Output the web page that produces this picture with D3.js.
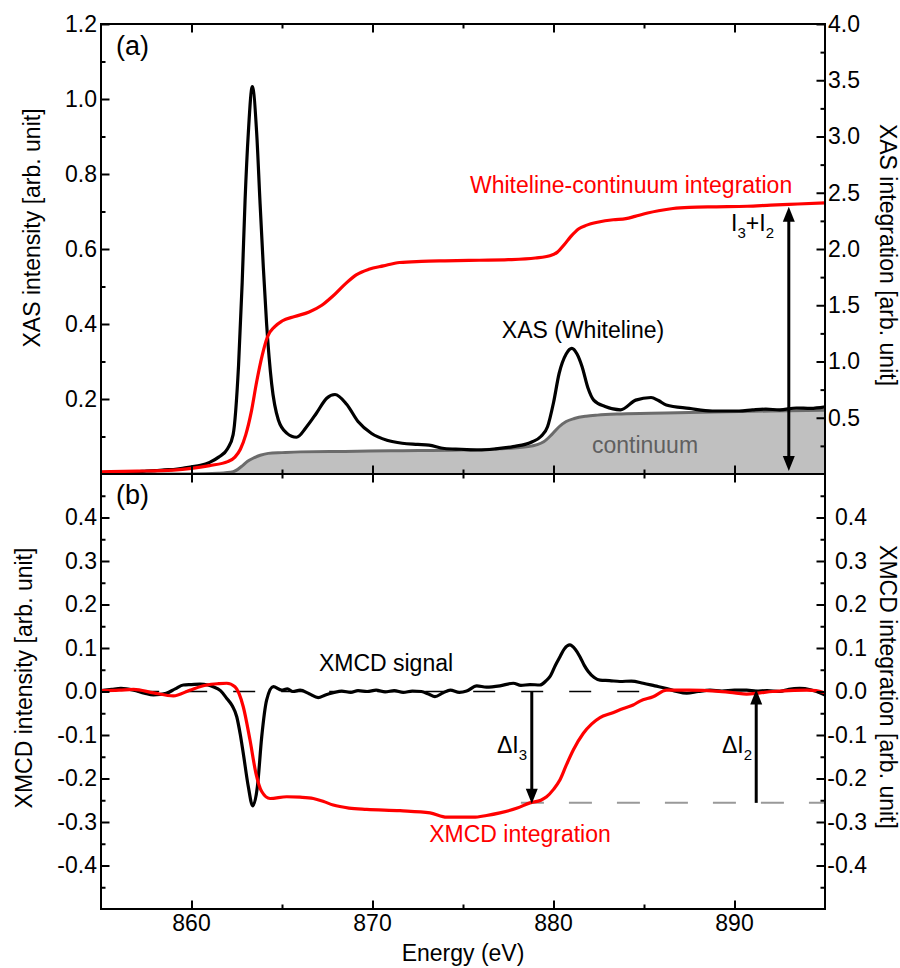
<!DOCTYPE html>
<html><head><meta charset="utf-8">
<script src="https://cdn.jsdelivr.net/npm/d3@7"></script>
<style>
html,body{margin:0;padding:0;background:#fff;}
svg{display:block;font-family:"Liberation Sans",Arial,Helvetica,sans-serif;}
</style></head>
<body><svg id="chart" width="900" height="968"></svg>
<script>
// ---------------- DATA ----------------
// Panel (a): XAS whiteline (left axis)
const xasE = [855.0,856.0,857.0,857.5,858.0,858.5,859.0,859.5,860.0,860.5,861.0,861.5,862.0,862.3,862.6,862.8,862.96,863.14,863.36,863.6,863.78,863.97,864.15,864.43,864.8,865.26,865.8,866.36,866.9,867.47,867.93,868.57,869.2,869.95,870.8,871.64,872.5,873.12,873.97,874.9,875.87,876.8,877.77,878.83,879.3,879.67,880.0,880.31,880.7,881.01,881.3,881.58,881.9,882.22,882.85,883.7,884.54,885.39,885.8,886.23,887.5,888.77,890.25,891.0,891.73,892.5,893.42,894.2,895.0];
const xasI = [0.004,0.005,0.006,0.008,0.009,0.011,0.012,0.015,0.019,0.023,0.031,0.045,0.068,0.105,0.29,0.51,0.73,0.91,1.033,0.91,0.73,0.55,0.40,0.24,0.144,0.109,0.098,0.126,0.162,0.202,0.212,0.186,0.14,0.108,0.09,0.082,0.079,0.077,0.068,0.066,0.064,0.067,0.073,0.086,0.10,0.126,0.19,0.268,0.32,0.335,0.32,0.286,0.23,0.197,0.18,0.171,0.197,0.204,0.196,0.184,0.175,0.168,0.168,0.171,0.173,0.171,0.176,0.175,0.179];
// Continuum (left axis)
const contE = [855,860,861.5,862.3,862.76,863.1,863.4,863.8,864.24,865,866,868.47,871,874.8,877,878.6,879.46,879.9,880.31,880.7,881.15,881.8,882.42,883.5,885.39,887.5,889.6,892,895];
const contI = [0.0,0.0,0.002,0.006,0.02,0.034,0.042,0.05,0.055,0.057,0.059,0.06,0.062,0.064,0.067,0.073,0.086,0.105,0.126,0.14,0.148,0.154,0.157,0.16,0.162,0.164,0.166,0.168,0.170];
// Whiteline-continuum integration (right axis)
const intE = [855,857,859,860,861,862,862.4,862.7,863.0,863.3,863.6,863.9,864.2,864.6,865.0,865.7,866.5,867.2,867.8,868.5,869.1,869.8,870.6,871.5,872.7,874,875.9,877.5,879.0,879.8,880.2,880.6,880.95,881.4,881.8,882.5,883.3,884.0,884.5,885.2,885.8,886.6,887.5,889,890.7,892,893.5,895];
const intV = [0.02,0.025,0.035,0.05,0.075,0.11,0.15,0.22,0.35,0.55,0.82,1.05,1.22,1.31,1.36,1.40,1.44,1.50,1.58,1.69,1.77,1.82,1.85,1.88,1.89,1.895,1.90,1.905,1.92,1.94,1.97,2.04,2.11,2.18,2.21,2.24,2.26,2.27,2.29,2.32,2.34,2.36,2.37,2.375,2.38,2.39,2.40,2.41];
// Panel (b): XMCD signal (left axis)
const xmcdE = [855.0,855.6,856.1,856.8,857.4,857.9,858.6,859.1,859.55,860.0,860.47,860.9,861.2,861.6,861.95,862.25,862.5,862.7,862.86,863.14,863.38,863.64,863.88,864.15,864.52,864.98,865.3,865.6,866.0,866.5,867.0,867.4,867.83,868.3,868.8,869.2,869.7,870.2,870.7,871.2,871.7,872.2,872.7,873.1,873.45,873.9,874.3,874.8,875.2,875.76,876.3,877.04,877.78,878.2,878.7,879.25,879.6,879.8,880.1,880.36,880.6,880.9,881.2,881.46,881.7,881.92,882.25,882.57,883.1,883.67,884.3,884.96,885.6,886.25,886.8,887.36,888.0,888.65,889.3,890.0,890.67,891.2,891.8,892.5,893.0,893.6,894.2,895.0];
const xmcdV = [0.002,0.005,0.007,0.003,-0.004,-0.008,-0.004,0.006,0.015,0.016,0.017,0.015,0.011,0.002,-0.016,-0.033,-0.058,-0.10,-0.142,-0.219,-0.263,-0.219,-0.104,-0.02,0.011,0.003,0.006,0.0,0.003,-0.005,-0.014,-0.008,-0.003,0.001,-0.002,0.002,0.0,0.003,-0.001,0.002,-0.002,0.001,0.0,-0.006,-0.012,-0.003,0.003,-0.002,0.001,0.013,0.010,0.013,0.019,0.014,0.016,0.015,0.025,0.034,0.06,0.08,0.098,0.107,0.097,0.08,0.06,0.046,0.032,0.026,0.025,0.023,0.024,0.019,0.013,0.007,0.0,-0.004,0.0,0.003,0.001,0.003,0.003,0.001,0.002,0.0,0.005,0.007,0.004,-0.008];
// XMCD integration (right axis)
const xintE = [855.0,856.0,856.8,857.9,859.0,859.9,860.84,861.5,861.95,862.4,862.86,863.23,863.56,863.88,864.34,865.26,866.0,866.73,867.3,867.83,868.7,869.68,871.52,873.18,874.1,875.57,876.3,877.04,878.0,878.7,879.3,879.62,880.0,880.36,880.7,881.1,881.65,882.1,882.57,883.2,883.86,884.4,884.78,885.5,886.25,887.5,889.0,890.0,890.67,891.4,892.1,893.0,894.0,894.5,895.0];
const xintV = [0.002,0.003,0.005,-0.003,-0.010,0.003,0.015,0.018,0.019,0.011,-0.035,-0.111,-0.188,-0.23,-0.246,-0.242,-0.243,-0.246,-0.253,-0.261,-0.268,-0.271,-0.274,-0.279,-0.289,-0.289,-0.285,-0.279,-0.268,-0.256,-0.25,-0.242,-0.225,-0.203,-0.17,-0.134,-0.096,-0.075,-0.06,-0.05,-0.039,-0.031,-0.022,-0.012,0.003,0.003,0.001,-0.003,-0.006,-0.003,0.0,0.002,0.003,0.002,-0.003];
// Annotation values
const sumArrowE = 893.0, sumArrowTop = 2.385;
const dI3E = 878.8, dI2E = 891.2, dLevel = -0.256;
// Ticks
const xTicks = [860,870,880,890], xMinor = [865,875,885];
const xasTicks = [0.2,0.4,0.6,0.8,1.0,1.2], xasMinor = [0.1,0.3,0.5,0.7,0.9,1.1];
const intTicks = [0.5,1.0,1.5,2.0,2.5,3.0,3.5,4.0], intMinor = [0.25,0.75,1.25,1.75,2.25,2.75,3.25,3.75];
const xmcdTicks = [-0.4,-0.3,-0.2,-0.1,0.0,0.1,0.2,0.3,0.4], xmcdMinor = [-0.45,-0.35,-0.25,-0.15,-0.05,0.05,0.15,0.25,0.35,0.45];

// ---------------- LAYOUT ----------------
const L = 101, R = 825, T1 = 24, B1 = 474, T2 = 474, B2 = 909;
const FS = 23;
const RED = "#ff0000";
const svg = d3.select("#chart");
const x = d3.scaleLinear([855,895],[L,R]);
const yA = d3.scaleLinear([0,1.2],[B1,T1]);
const yAR = d3.scaleLinear([0,4],[B1,T1]);
const yB = d3.scaleLinear([-0.5,0.5],[B2,T2]);
const fmt = v => (Math.abs(v) < 1e-9 ? 0 : v).toFixed(1);

const defs = svg.append("defs");
defs.append("clipPath").attr("id","cA").append("rect").attr("x",L).attr("y",T1).attr("width",R-L).attr("height",B1-T1);
defs.append("clipPath").attr("id","cB").append("rect").attr("x",L).attr("y",T2).attr("width",R-L).attr("height",B2-T2);

const zipc = (a,b) => a.map((e,i)=>[e,b[i]]);
const curve = d3.curveMonotoneX;

// ---------- Panel (a) ----------
const gA = svg.append("g").attr("clip-path","url(#cA)");
gA.append("path").datum(zipc(contE,contI))
  .attr("d", d3.area().x(d=>x(d[0])).y0(yA(0)).y1(d=>yA(d[1])).curve(curve))
  .attr("fill","#c0c0c0");
gA.append("path").datum(zipc(contE,contI))
  .attr("d", d3.line().x(d=>x(d[0])).y(d=>yA(d[1])).curve(curve))
  .attr("fill","none").attr("stroke","#6b6b6b").attr("stroke-width",3);
gA.append("path").datum(zipc(xasE,xasI))
  .attr("d", d3.line().x(d=>x(d[0])).y(d=>yA(d[1])).curve(curve))
  .attr("fill","none").attr("stroke","#000").attr("stroke-width",3.2).attr("stroke-linejoin","round");
gA.append("path").datum(zipc(intE,intV))
  .attr("d", d3.line().x(d=>x(d[0])).y(d=>yAR(d[1])).curve(curve))
  .attr("fill","none").attr("stroke",RED).attr("stroke-width",3.2);

// ---------- Panel (b) ----------
const gB = svg.append("g").attr("clip-path","url(#cB)");
gB.append("line").attr("x1",x(857)).attr("x2",x(885)).attr("y1",yB(0)).attr("y2",yB(0))
  .attr("stroke","#000").attr("stroke-width",1.6).attr("stroke-dasharray","22,26");
gB.append("line").attr("x1",x(878.2)).attr("x2",x(895)).attr("y1",yB(dLevel)).attr("y2",yB(dLevel))
  .attr("stroke","#999").attr("stroke-width",2).attr("stroke-dasharray","23,25");
gB.append("path").datum(zipc(xmcdE,xmcdV))
  .attr("d", d3.line().x(d=>x(d[0])).y(d=>yB(d[1])).curve(curve))
  .attr("fill","none").attr("stroke","#000").attr("stroke-width",3.2).attr("stroke-linejoin","round");
gB.append("path").datum(zipc(xintE,xintV))
  .attr("d", d3.line().x(d=>x(d[0])).y(d=>yB(d[1])).curve(curve))
  .attr("fill","none").attr("stroke",RED).attr("stroke-width",3.2);

// ---------- Arrows ----------
function arrowHead(px, py, dir){ // dir: +1 pointing down, -1 pointing up
  const w = 6, h = 15;
  return `M${px},${py} L${px-w},${py-dir*h} L${px+w},${py-dir*h} Z`;
}
function vArrow(px, yFrom, yTo, both){
  const dir = yTo > yFrom ? 1 : -1;
  const g = svg.append("g");
  g.append("line").attr("x1",px).attr("x2",px)
    .attr("y1", both ? yFrom + dir*10 : yFrom).attr("y2", yTo - dir*10)
    .attr("stroke","#000").attr("stroke-width",3);
  g.append("path").attr("d",arrowHead(px,yTo,dir)).attr("fill","#000");
  if (both) g.append("path").attr("d",arrowHead(px,yFrom,-dir)).attr("fill","#000");
}
vArrow(x(sumArrowE), yAR(sumArrowTop)+1, yA(0)-3, true);
vArrow(x(dI3E), yB(0), yB(dLevel)+1, false);
vArrow(x(dI2E), yB(dLevel), yB(0)-2, false);

// ---------- Axes ----------
function styleAxis(g){
  g.select(".domain").remove();
  g.selectAll(".tick line").attr("stroke","#000").attr("stroke-width",2);
  g.selectAll("text").attr("font-size",FS).attr("fill","#000").attr("font-family",null);
}
function addAxis(axisFn, scale, ticks, size, tx, ty, labeled, pad){
  const a = axisFn(scale).tickValues(ticks).tickSize(-size).tickPadding(pad||4);
  a.tickFormat(labeled ? fmt : "");
  const g = svg.append("g").attr("transform",`translate(${tx},${ty})`).call(a);
  styleAxis(g);
  return g;
}
const MAJ = 8.5, MIN = 4.5;
// x axes
[B1, B2].forEach(yy => {
  addAxis(d3.axisBottom, x, xTicks, MAJ, 0, yy, false);
  addAxis(d3.axisBottom, x, xMinor, MIN, 0, yy, false);
});
[T1, T2].forEach(yy => {
  addAxis(d3.axisTop, x, xTicks, MAJ, 0, yy, false);
  addAxis(d3.axisTop, x, xMinor, MIN, 0, yy, false);
});
// x labels on bottom
const xl = svg.append("g");
xTicks.forEach(v => xl.append("text").attr("x",x(v)).attr("y",931).attr("text-anchor","middle")
  .attr("font-size",FS).text(v));
// panel (a) left/right
addAxis(d3.axisLeft, yA, xasTicks, MAJ, L, 0, true, 4);
addAxis(d3.axisLeft, yA, xasMinor, MIN, L, 0, false);
addAxis(d3.axisRight, yAR, intTicks, MAJ, R, 0, true, 3);
addAxis(d3.axisRight, yAR, intMinor, MIN, R, 0, false);
// panel (b)
addAxis(d3.axisLeft, yB, xmcdTicks, MAJ, L, 0, true, 4);
addAxis(d3.axisLeft, yB, xmcdMinor, MIN, L, 0, false);
const gbr = addAxis(d3.axisRight, yB, xmcdTicks, MAJ, R, 0, true, 3);
gbr.selectAll("text").attr("text-anchor","end").attr("x",42);
addAxis(d3.axisRight, yB, xmcdMinor, MIN, R, 0, false);

// frames
svg.append("rect").attr("x",L).attr("y",T1).attr("width",R-L).attr("height",B1-T1)
  .attr("fill","none").attr("stroke","#000").attr("stroke-width",2);
svg.append("rect").attr("x",L).attr("y",T2).attr("width",R-L).attr("height",B2-T2)
  .attr("fill","none").attr("stroke","#000").attr("stroke-width",2);

// ---------- Text ----------
function txt(s, px, py, opts){
  opts = opts || {};
  const t = svg.append("text").attr("x",px).attr("y",py).attr("font-size",opts.fs||FS)
    .attr("fill",opts.fill||"#000").attr("text-anchor",opts.anchor||"start");
  if (opts.rot) t.attr("transform",`rotate(${opts.rot},${px},${py})`);
  t.text(s);
  return t;
}
txt("(a)", 116, 55, {fs:27});
txt("(b)", 116, 504, {fs:27});
txt("Whiteline-continuum integration", 470, 193, {fill:RED});
txt("XAS (Whiteline)", 583, 338, {anchor:"middle"});
txt("continuum", 645, 453, {anchor:"middle", fill:"#5f5f5f"});
txt("XMCD signal", 386, 671, {anchor:"middle"});
txt("XMCD integration", 520, 842, {anchor:"middle", fill:RED});
// I3+I2
{
  const t = svg.append("text").attr("x",774).attr("y",231).attr("font-size",FS).attr("text-anchor","end");
  t.append("tspan").text("I");
  t.append("tspan").attr("font-size",15).attr("dy",7).text("3");
  t.append("tspan").attr("dy",-7).text("+I");
  t.append("tspan").attr("font-size",15).attr("dy",7).text("2");
}
function dLabel(px, sub){
  const t = svg.append("text").attr("x",px).attr("y",753).attr("font-size",FS).attr("text-anchor","end");
  t.append("tspan").text("ΔI");
  t.append("tspan").attr("font-size",15).attr("dy",7).text(sub);
}
dLabel(527, "3");
dLabel(752, "2");
// axis titles
txt("XAS intensity [arb. unit]", 40, 228, {anchor:"middle", rot:-90});
txt("XMCD intensity [arb. unit]", 31.5, 678, {anchor:"middle", rot:-90});
txt("XAS integration [arb. unit]", 880, 255, {anchor:"middle", rot:90});
txt("XMCD integration [arb. unit]", 880, 687, {anchor:"middle", rot:90});
txt("Energy (eV)", 463, 961, {anchor:"middle"});
</script></body></html>
